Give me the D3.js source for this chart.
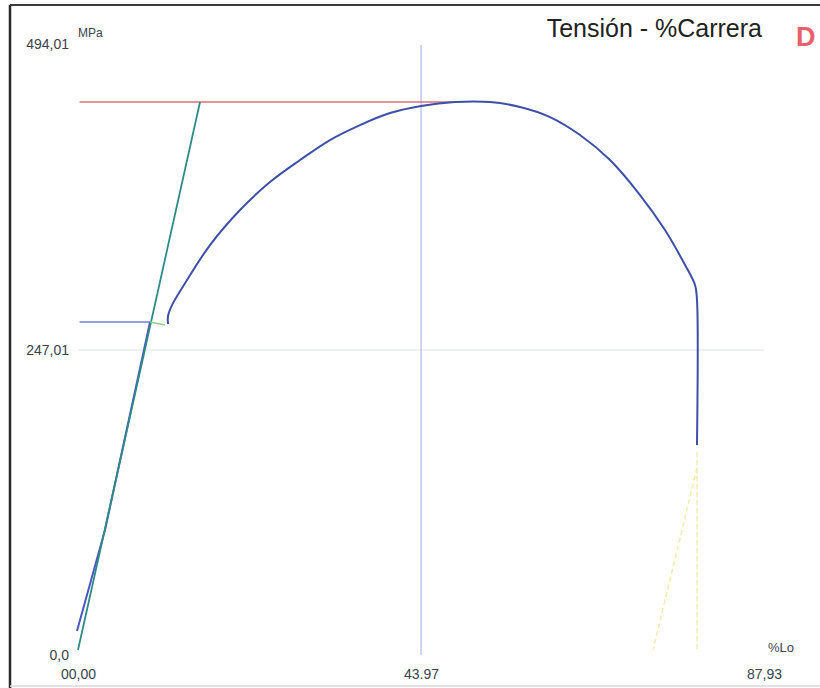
<!DOCTYPE html>
<html>
<head>
<meta charset="utf-8">
<script src="https://cdn.jsdelivr.net/npm/d3@7"></script>
<style>
  html, body { margin: 0; padding: 0; background: #fff; }
  svg { display: block; }
  text { font-family: "Liberation Sans", Arial, sans-serif; }
</style>
</head>
<body>
<svg id="chart" width="820" height="688"></svg>
<script>
// Tensile test: stress (MPa) against elongation (% of Lo)
const strainPct = [-0.13, 3.46, 9.23];
const stressMPa = [15.6, 98.8, 270];

// Plastic part of the curve after yield
const plasticStrain = [11.54, 11.54, 12.05, 13.72, 16.92, 20.77, 24.61, 28.46, 32.30, 36.15, 39.99, 43.97,
                       48.32, 52.81, 56.66, 60.50, 64.35, 68.19, 72.04, 75.24, 77.81, 79.09, 79.34, 79.34];
const plasticStress = [268.4, 275, 284, 302, 333.4, 362.3, 385.3, 403.4, 419.9, 432.2, 442.1, 447.9,
                       451.2, 451.2, 447.1, 438.8, 424.0, 403.4, 374.6, 345.8, 317.0, 300.5, 288.2, 168.8];

// Yield step between elastic and plastic regions
const yieldStepStrain = [9.23, 11.15];
const yieldStepStress = [270, 267.6];

// Elastic modulus line
const modulusStrain = [0, 15.64];
const modulusStress = [0, 451.2];

// Reference levels
const maxStress = 451.2;
const maxStressStrain = 48.3;
const yieldStress = 270;
const yieldStrain = 9.23;

// Fracture lines
const fractureStrain = [79.34, 79.34];
const fractureStress = [163, 0];
const unloadStrain = [79.34, 73.7];
const unloadStress = [150, 0];

// Axis ticks
const xTicks = [0, 43.97, 87.93];
const xTickLabels = ["00,00", "43.97", "87,93"];
const yTicks = [0, 247.01, 494.01];
const yTickLabels = ["0,0", "247,01", "494,01"];

const svg = d3.select("#chart");
const x = d3.scaleLinear().domain([0, 87.93]).range([78, 764]);
const y = d3.scaleLinear().domain([0, 494.01]).range([650, 50]);

// Frame
svg.append("line").attr("x1", 10).attr("x2", 10).attr("y1", 5).attr("y2", 688)
  .attr("stroke", "#2a2a2a").attr("stroke-width", 2.5);
svg.append("line").attr("x1", 10).attr("x2", 820).attr("y1", 5).attr("y2", 5)
  .attr("stroke", "#3a3a3a").attr("stroke-width", 2);
svg.append("line").attr("x1", 10).attr("x2", 820).attr("y1", 686).attr("y2", 686)
  .attr("stroke", "#d8d8d8").attr("stroke-width", 1.5);

// Grid lines through the middle ticks
svg.append("line").attr("x1", x(0)).attr("x2", x(87.93))
  .attr("y1", y(247.01)).attr("y2", y(247.01))
  .attr("stroke", "#dde2ea").attr("stroke-width", 1);
svg.append("line").attr("x1", x(43.97)).attr("x2", x(43.97))
  .attr("y1", y(494.01) - 5).attr("y2", y(0) + 5)
  .attr("stroke", "#a3abe2").attr("stroke-width", 1);

// Axes (labels only)
const xAxis = d3.axisBottom(x).tickValues(xTicks).tickSize(0)
  .tickFormat((d, i) => xTickLabels[i]);
const gx = svg.append("g").attr("transform", `translate(0,${y(0) + 16})`).call(xAxis);
gx.select(".domain").remove();
gx.selectAll("text").attr("font-size", 14).attr("fill", "#3a3f4c")
  .attr("font-family", "Liberation Sans, Arial, sans-serif");

const yAxis = d3.axisLeft(y).tickValues(yTicks).tickSize(0).tickPadding(9)
  .tickFormat((d, i) => yTickLabels[i]);
const gy = svg.append("g").attr("transform", `translate(${x(0)},0)`).call(yAxis);
gy.select(".domain").remove();
gy.selectAll("text").attr("font-size", 14).attr("fill", "#3a3f4c")
  .attr("font-family", "Liberation Sans, Arial, sans-serif");
gy.selectAll(".tick").filter(d => d === 0).select("text").attr("dy", "0.7em");
gy.selectAll(".tick").filter(d => d === 494.01).select("text").attr("dy", "-0.1em");

// Units
svg.append("text").attr("x", x(0)).attr("y", 37).attr("font-size", 12)
  .attr("fill", "#3a3f4c").text("MPa");
svg.append("text").attr("x", 768).attr("y", 652).attr("font-size", 13)
  .attr("fill", "#3a3f4c").text("%Lo");

// Title and marker
svg.append("text").attr("x", 762).attr("y", 37).attr("text-anchor", "end")
  .attr("font-size", 25).attr("fill", "#222").text("Tensión - %Carrera");
svg.append("text").attr("x", 796).attr("y", 46).attr("font-size", 27)
  .attr("font-weight", "bold").attr("fill", "#e8606a").text("D");

const line = d3.line().x(d => x(d[0])).y(d => y(d[1]));
const smooth = d3.line().x(d => x(d[0])).y(d => y(d[1])).curve(d3.curveCatmullRom.alpha(0.5));

// Maximum stress level
svg.append("path")
  .attr("d", line([[0.2, maxStress], [maxStressStrain, maxStress]]))
  .attr("fill", "none").attr("stroke", "#d9727e").attr("stroke-width", 1.5);

// Yield stress level
svg.append("path")
  .attr("d", line([[0.2, yieldStress], [yieldStrain, yieldStress]]))
  .attr("fill", "none").attr("stroke", "#6f7fd6").attr("stroke-width", 1.5);

// Fracture / unloading lines
svg.append("path")
  .attr("d", line(fractureStrain.map((v, i) => [v, fractureStress[i]])))
  .attr("fill", "none").attr("stroke", "#f3ecaa").attr("stroke-width", 1.5)
  .attr("stroke-dasharray", "5,3");
svg.append("path")
  .attr("d", line(unloadStrain.map((v, i) => [v, unloadStress[i]])))
  .attr("fill", "none").attr("stroke", "#f3ecaa").attr("stroke-width", 1.5)
  .attr("stroke-dasharray", "5,3");

// Test curve, elastic part
const curve = strainPct.map((v, i) => [v, stressMPa[i]]);
svg.append("path").attr("d", line(curve))
  .attr("fill", "none").attr("stroke", "#4a58c0").attr("stroke-width", 2);

// Elastic modulus line
svg.append("path")
  .attr("d", line(modulusStrain.map((v, i) => [v, modulusStress[i]])))
  .attr("fill", "none").attr("stroke", "#2f8a86").attr("stroke-width", 1.8);

// Yield step
svg.append("path")
  .attr("d", line(yieldStepStrain.map((v, i) => [v, yieldStepStress[i]])))
  .attr("fill", "none").attr("stroke", "#8fce8a").attr("stroke-width", 1.5);

// Test curve, plastic part
svg.append("path")
  .attr("d", smooth(plasticStrain.map((v, i) => [v, plasticStress[i]])))
  .attr("fill", "none").attr("stroke", "#3e4fa8").attr("stroke-width", 2);
</script>
</body>
</html>
